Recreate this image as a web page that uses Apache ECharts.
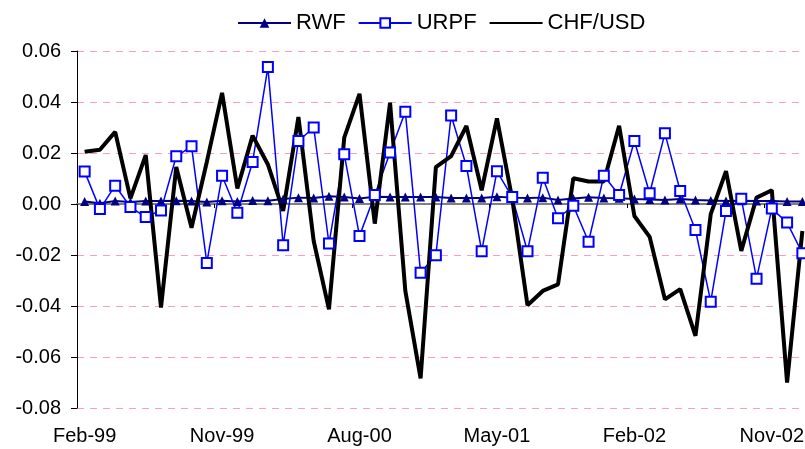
<!DOCTYPE html>
<html>
<head>
<meta charset="utf-8">
<script src="https://cdn.jsdelivr.net/npm/echarts@6/dist/echarts.min.js"></script>
<style>
  html,body{margin:0;padding:0;background:#fff;}
  #chart{width:805px;height:449px;}
</style>
</head>
<body>
<div id="chart"></div>
<script>
// months, Feb-99 .. Jan-03
var months = ['Feb-99','Mar-99','Apr-99','May-99','Jun-99','Jul-99','Aug-99','Sep-99','Oct-99','Nov-99','Dec-99','Jan-00',
  'Feb-00','Mar-00','Apr-00','May-00','Jun-00','Jul-00','Aug-00','Sep-00','Oct-00','Nov-00','Dec-00','Jan-01',
  'Feb-01','Mar-01','Apr-01','May-01','Jun-01','Jul-01','Aug-01','Sep-01','Oct-01','Nov-01','Dec-01','Jan-02',
  'Feb-02','Mar-02','Apr-02','May-02','Jun-02','Jul-02','Aug-02','Sep-02','Oct-02','Nov-02','Dec-02','Jan-03'];

var rwf = [0.0010,0.0003,0.0012,0.0008,0.0012,0.0012,0.0013,0.0012,0.0008,0.0013,0.0010,0.0014,
  0.0013,0.0020,0.0025,0.0024,0.0030,0.0027,0.0022,0.0028,0.0027,0.0027,0.0027,0.0027,
  0.0024,0.0024,0.0024,0.0028,0.0025,0.0024,0.0025,0.0016,0.0022,0.0026,0.0024,0.0023,
  0.0020,0.0018,0.0016,0.0020,0.0016,0.0014,0.0012,0.0013,0.0012,0.0012,0.0010,0.0010];

var urpf = [0.0127,-0.0020,0.0072,-0.0012,-0.0051,-0.0025,0.0187,0.0226,-0.0231,0.0111,-0.0034,0.0165,
  0.0537,-0.0162,0.0247,0.0300,-0.0155,0.0195,-0.0125,0.0035,0.0202,0.0362,-0.0270,-0.0201,
  0.0347,0.0149,-0.0185,0.0128,0.0027,-0.0185,0.0103,-0.0056,-0.0007,-0.0148,0.0111,0.0035,
  0.0247,0.0042,0.0277,0.0051,-0.0102,-0.0383,-0.0027,0.0021,-0.0293,-0.0018,-0.0073,-0.0193];

var chfUsd = [0.0205,0.0213,0.0283,0.0022,0.0192,-0.0406,0.0145,-0.0093,0.0165,0.0436,0.0061,0.0268,
  0.0155,-0.0027,0.0341,-0.0145,-0.0413,0.0260,0.0432,-0.0077,0.0397,-0.0341,-0.0684,0.0145,
  0.0188,0.0306,0.0054,0.0336,0.0020,-0.0397,-0.0341,-0.0315,0.0101,0.0088,0.0088,0.0307,
  -0.0047,-0.0129,-0.0374,-0.0334,-0.0517,-0.0040,0.0129,-0.0184,0.0025,0.0054,-0.0700,-0.0106];

var chart = echarts.init(document.getElementById('chart'));
var font = 'Liberation Sans, Arial, sans-serif';

chart.setOption({
  animation: false,
  backgroundColor: '#fff',
  legend: {
    top: 12,
    left: 237,
    padding: 0,
    itemWidth: 53,
    itemHeight: 12,
    itemGap: 12,
    textStyle: {fontSize: 22, color: '#000', fontFamily: font},
    data: ['RWF', 'URPF', {name: 'CHF/USD', itemStyle: {opacity: 0}}]
  },
  grid: {left: 77, top: 51, bottom: 41, right: -5, outerBoundsMode: 'none'},
  xAxis: [{
    type: 'category',
    data: months,
    boundaryGap: true,
    axisLine: {onZero: true, lineStyle: {color: '#808080', width: 2}},
    axisTick: {show: true, interval: 8, length: 4, lineStyle: {color: '#000'}},
    axisLabel: {show: false},
    splitLine: {show: false}
  }, {
    type: 'category',
    data: months,
    position: 'bottom',
    boundaryGap: true,
    axisLine: {show: false, onZero: false},
    axisTick: {show: false},
    axisLabel: {interval: 8, margin: 18, fontSize: 20, color: '#000', fontFamily: font},
    splitLine: {show: false}
  }],
  yAxis: {
    type: 'value',
    min: -0.08,
    max: 0.06,
    interval: 0.02,
    axisLine: {show: true, lineStyle: {color: '#000', width: 1}},
    axisTick: {show: true, length: 6, lineStyle: {color: '#000'}},
    axisLabel: {
      margin: 16, fontSize: 20, color: '#000', fontFamily: font,
      formatter: function (v) { return v.toFixed(2); }
    },
    splitLine: {show: true, lineStyle: {color: '#ff99cc', type: [7, 6], width: 1}}
  },
  series: [{
    name: 'RWF',
    type: 'line',
    data: rwf,
    symbol: 'triangle',
    symbolSize: 9,
    lineStyle: {color: '#000080', width: 2},
    itemStyle: {color: '#000080'}
  }, {
    name: 'URPF',
    type: 'line',
    data: urpf,
    symbol: 'emptyRect',
    symbolSize: 10,
    lineStyle: {color: '#0000ff', width: 1.5},
    itemStyle: {color: '#0000ff', borderWidth: 2}
  }, {
    name: 'CHF/USD',
    type: 'line',
    data: chfUsd,
    symbol: 'none',
    lineStyle: {color: '#000', width: 4},
    itemStyle: {color: '#000'}
  }]
});
</script>
</body>
</html>
